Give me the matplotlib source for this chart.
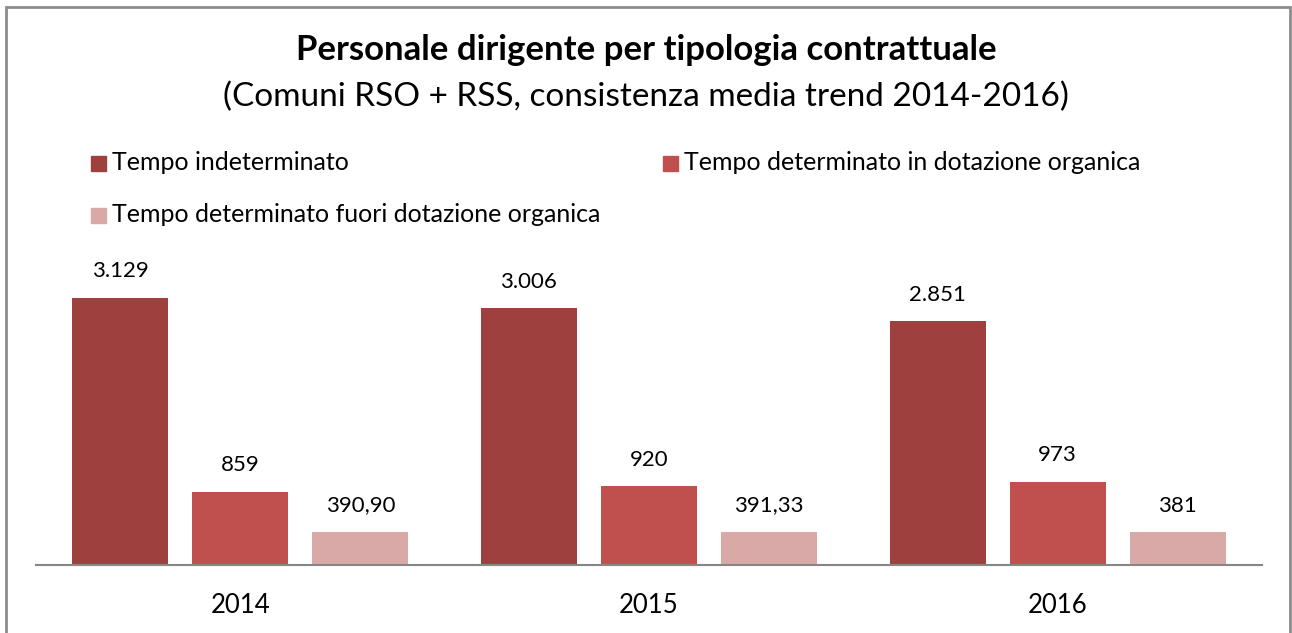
import matplotlib
matplotlib.use("Agg")
import matplotlib.pyplot as plt
import numpy as np
from matplotlib.patches import Rectangle

# ── data ─────────────────────────────────────────────────────────────────────
years = ["2014", "2015", "2016"]
series_names = [
    "Tempo indeterminato",
    "Tempo determinato in dotazione organica",
    "Tempo determinato fuori dotazione organica",
]
indeterminato = [3129, 3006, 2851]
det_in_dotazione = [859, 920, 973]
det_fuori_dotazione = [390.90, 391.33, 381]
value_labels = [
    ["3.129", "3.006", "2.851"],
    ["859", "920", "973"],
    ["390,90", "391,33", "381"],
]

_DARK = "#9e413e"
_MID = "#c0504d"
_LIGHT = "#d9a9a8"

plt.rcParams["font.family"] = ["Lato", "DejaVu Sans"]

W, H = 1292, 633
fig = plt.figure(figsize=(W / 100, H / 100), dpi=100)
# outer chart frame (bottom edge falls outside the image)
fig.patches.append(Rectangle((6 / W, -0.05), 1284 / W, 1.05 - 7 / H, transform=fig.transFigure,
                             fill=False, edgecolor="#8c8c8c", linewidth=2))

ax = fig.add_axes([36 / W, 68 / H, 1226 / W, 299 / H])

x = np.arange(len(years))
width = 0.235
step = 0.294
series = [indeterminato, det_in_dotazione, det_fuori_dotazione]
colors = [_DARK, _MID, _LIGHT]
for i, (vals, col) in enumerate(zip(series, colors)):
    bars = ax.bar(x + (i - 1) * step, vals, width, color=col, label=series_names[i])
    ax.bar_label(bars, labels=value_labels[i], padding=12, fontsize=16)

ax.set_xlim(-0.5, 2.5)
ax.set_ylim(0, 3500)
ax.set_yticks([])
ax.set_xticks(x, years, fontsize=18.5)
ax.tick_params(axis="x", length=0, pad=20)
for s in ["top", "left", "right"]:
    ax.spines[s].set_visible(False)
ax.spines["bottom"].set_color("#868686")
ax.spines["bottom"].set_linewidth(1.5)

fig.text(0.5, 1 - 50 / H, "Personale dirigente per tipologia contrattuale",
         ha="center", va="center", fontsize=25, fontweight="bold")
fig.text(0.5, 1 - 97 / H, "(Comuni RSO + RSS, consistenza media trend 2014-2016)",
         ha="center", va="center", fontsize=24)

# legend laid out as in the original: two items on row one, one on row two
legend_pos = [(91, 163), (663, 163), (91, 215)]
for (lx, ly), name, col in zip(legend_pos, series_names, colors):
    fig.patches.append(Rectangle((lx / W, 1 - (ly + 8) / H), 15 / W, 15 / H,
                                 transform=fig.transFigure, color=col))
    fig.text((lx + 21) / W, 1 - ly / H, name, ha="left", va="center", fontsize=18)

fig.savefig("out.png", dpi=100)
